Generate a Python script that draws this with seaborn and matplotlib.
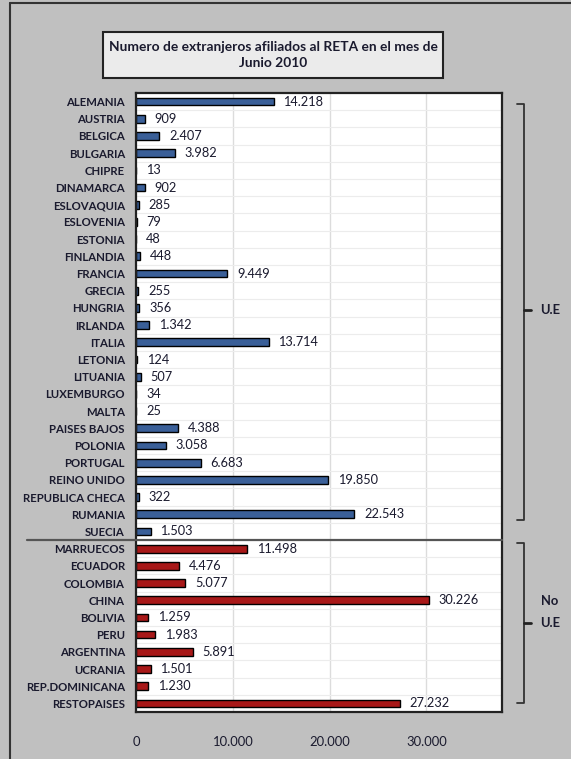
import matplotlib
matplotlib.use("Agg")
import matplotlib.pyplot as plt
import matplotlib.transforms as mtransforms
from matplotlib.patches import Rectangle
from matplotlib.lines import Line2D
import seaborn as sns
import pandas as pd

eu_countries = ["ALEMANIA", "AUSTRIA", "BELGICA", "BULGARIA", "CHIPRE", "DINAMARCA",
                "ESLOVAQUIA", "ESLOVENIA", "ESTONIA", "FINLANDIA", "FRANCIA", "GRECIA",
                "HUNGRIA", "IRLANDA", "ITALIA", "LETONIA", "LITUANIA", "LUXEMBURGO",
                "MALTA", "PAISES BAJOS", "POLONIA", "PORTUGAL", "REINO UNIDO",
                "REPUBLICA CHECA", "RUMANIA", "SUECIA"]
eu_values = [14218, 909, 2407, 3982, 13, 902, 285, 79, 48, 448, 9449, 255, 356, 1342,
             13714, 124, 507, 34, 25, 4388, 3058, 6683, 19850, 322, 22543, 1503]
noeu_countries = ["MARRUECOS", "ECUADOR", "COLOMBIA", "CHINA", "BOLIVIA", "PERU",
                  "ARGENTINA", "UCRANIA", "REP.DOMINICANA", "RESTOPAISES"]
noeu_values = [11498, 4476, 5077, 30226, 1259, 1983, 5891, 1501, 1230, 27232]
x_ticks = [0, 10000, 20000, 30000]
x_tick_labels = ["0", "10.000", "20.000", "30.000"]
title = "Numero de extranjeros afiliados al RETA en el mes de\nJunio 2010"

df = pd.DataFrame({
    "pais": eu_countries + noeu_countries,
    "valor": eu_values + noeu_values,
    "grupo": ["U.E"] * len(eu_countries) + ["No U.E"] * len(noeu_countries),
})

sns.set_style("white")
plt.rcParams["font.family"] = ["Lato", "DejaVu Sans"]

W, H = 571, 759
fig = plt.figure(figsize=(W / 100, H / 100), dpi=100)
fig.patch.set_facecolor("#c0c0c0")

def fx(px):
    return px / W

def fy(py):
    return 1 - py / H

ax = fig.add_axes([fx(136), fy(712), fx(502) - fx(136), fy(93) - fy(712)])
ax.set_facecolor("white")

sns.barplot(data=df, y="pais", x="valor", hue="grupo", orient="h",
            palette={"U.E": "#2a5ca8", "No U.E": "#c00000"},
            dodge=False, width=0.45, edgecolor="black", linewidth=1.0,
            legend=False, ax=ax)

n = len(df)
ax.set_ylim(n - 0.5, -0.5)
ax.set_xlim(0, 37800)

# gridlines
for xv in x_ticks[1:]:
    ax.axvline(xv, color="#dcdcdc", lw=1.0, zorder=0)
for i in range(n - 1):
    ax.axhline(i + 0.5, color="#ececec", lw=0.8, zorder=0)

# values
for i, v in enumerate(df["valor"]):
    lbl = f"{v:,}".replace(",", ".")
    ax.annotate(lbl, (v, i), xytext=(7, 0), textcoords="offset points",
                va="center", ha="left", fontsize=9.2, color="#1a1a2e")

ax.set_xticks(x_ticks)
ax.set_xticklabels(x_tick_labels, fontsize=9.4, color="#1a1a2e")
ax.tick_params(axis="x", length=0, pad=17)
ax.set_yticks(range(n))
ax.set_yticklabels(df["pais"], fontsize=8.2, fontweight="bold", color="#1a1a2e")
ax.tick_params(axis="y", length=0, pad=8)
ax.set_xlabel("")
ax.set_ylabel("")

# minor ticks at row boundaries on y axis
ax.set_yticks([i + 0.5 for i in range(-1, n)], minor=True)
ax.tick_params(axis="y", which="minor", length=4, width=1, color="#333333", direction="out")

for side, sp in ax.spines.items():
    sp.set_visible(True)
    sp.set_color("#222222")
    sp.set_linewidth(1.6)

# separator line between groups
trans = mtransforms.blended_transform_factory(ax.transAxes, ax.transData)
sep = len(eu_countries) - 0.5
ax.plot([(27 - 136) / 366, 1.0], [sep, sep], color="#555555", lw=1.6,
        transform=trans, clip_on=False, zorder=5)

# outer frame lines
fig.add_artist(Line2D([fx(10), fx(10)], [0, fy(3)], color="#333333", lw=1.5))
fig.add_artist(Line2D([fx(10), 1], [fy(3), fy(3)], color="#333333", lw=1.5))

# title box
fig.add_artist(Rectangle((fx(103), fy(78)), fx(443) - fx(103), fy(32) - fy(78),
                         facecolor="#ebebeb", edgecolor="#222222", lw=1.5))
fig.text(fx(273), fy(55), title, ha="center", va="center", fontsize=9.9,
         fontweight="bold", color="#1a1a2e", linespacing=1.4)

# brackets
def bracket(y0, y1, ymid):
    xb = fx(524)
    fig.add_artist(Line2D([fx(517), xb, xb, fx(517)], [fy(y0), fy(y0), fy(y1), fy(y1)],
                          color="#333333", lw=1.3))
    fig.add_artist(Line2D([xb, fx(531)], [fy(ymid), fy(ymid)], color="#222222", lw=2.0))

bracket(104, 520, 310)
fig.text(fx(540), fy(310), "U.E", ha="left", va="center", fontsize=9.4,
         fontweight="bold", color="#1a1a2e")
bracket(543, 703, 623)
fig.text(fx(541), fy(601), "No", ha="left", va="center", fontsize=9.4,
         fontweight="bold", color="#1a1a2e")
fig.text(fx(540), fy(623), "U.E", ha="left", va="center", fontsize=9.4,
         fontweight="bold", color="#1a1a2e")

fig.savefig("out.png", dpi=100, facecolor=fig.get_facecolor())
